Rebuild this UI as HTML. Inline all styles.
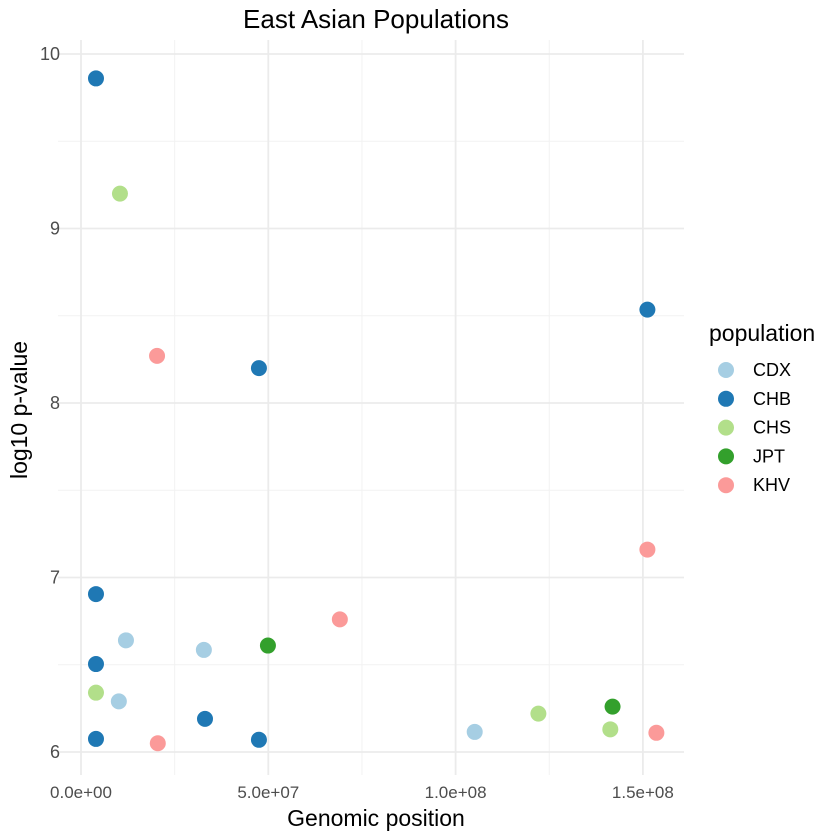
<!DOCTYPE html>
<html><head><meta charset="utf-8"><style>
body{margin:0;background:#fff;}
svg{display:block;font-family:"Liberation Sans",sans-serif;}
</style></head><body>
<svg id="chart" width="840" height="840">
<text x="376" y="28" text-anchor="middle" font-size="26" fill="#000">East Asian Populations</text>
<g id="grid"></g>
<g id="xticks"></g>
<g id="yticks"></g>
<g id="points"></g>
<text x="376" y="826" text-anchor="middle" font-size="23" fill="#000">Genomic position</text>
<text transform="translate(27,410) rotate(-90)" text-anchor="middle" font-size="23" fill="#000">log10 p-value</text>
<g id="legend">
<text x="709" y="341" font-size="23" fill="#000">population</text>
</g>
</svg>
<script>
const groups = ["CDX","CHB","CHS","JPT","KHV"];
const colors = ["#a6cee3","#1f78b4","#b2df8a","#33a02c","#fb9a99"];
const xTicks = [0, 5e7, 1e8, 1.5e8];
const xTickLabels = ["0.0e+00","5.0e+07","1.0e+08","1.5e+08"];
const yTicks = [6,7,8,9,10];
const ptGroup = ["CHB","CHB","CHB","CHB","CHB","CHB","CHB","CHB",
  "CDX","CDX","CDX","CDX",
  "CHS","CHS","CHS","CHS",
  "JPT","JPT",
  "KHV","KHV","KHV","KHV","KHV"];
const ptX = [0.4e7,4.75e7,1.512e8,0.4e7,0.4e7,0.4e7,3.31e7,4.75e7,
  1.2e7,3.28e7,1.01e7,1.051e8,
  1.04e7,0.4e7,1.221e8,1.413e8,
  4.99e7,1.419e8,
  2.03e7,6.91e7,1.512e8,1.536e8,2.05e7];
const ptY = [9.86,8.20,8.535,6.905,6.504,6.075,6.19,6.07,
  6.64,6.585,6.29,6.115,
  9.20,6.34,6.22,6.13,
  6.61,6.26,
  8.27,6.76,7.16,6.11,6.05];

const NS="http://www.w3.org/2000/svg";
const L=58,R=684,T=40,B=775;
const xs=v=>81+v*(187.3/5e7);
const ys=v=>752-(v-6)*174.5;
function mk(tag,attrs,parent){const e=document.createElementNS(NS,tag);for(const k in attrs)e.setAttribute(k,attrs[k]);parent.appendChild(e);return e;}
const grid=document.getElementById('grid');
for(let v=6.5;v<10.2;v+=1){const l=mk('line',{x1:L,x2:R,y1:ys(v),y2:ys(v),stroke:'#f2f2f2','stroke-width':1},grid);

}
for(let v=2.5e7;v<1.6e8;v+=5e7){const l=mk('line',{x1:xs(v),x2:xs(v),y1:T,y2:B,stroke:'#f2f2f2','stroke-width':1},grid);

}
const yt=document.getElementById('yticks');
yTicks.forEach(v=>{const l=mk('line',{x1:L,x2:R,y1:ys(v),y2:ys(v),stroke:'#ebebeb','stroke-width':1.8},grid);


const t=mk('text',{x:60,y:ys(v)+6,'text-anchor':'end','font-size':18,fill:'#4d4d4d'},yt);t.textContent=v;

});
const xt=document.getElementById('xticks');
xTicks.forEach((v,i)=>{const l=mk('line',{x1:xs(v),x2:xs(v),y1:T,y2:B,stroke:'#ebebeb','stroke-width':1.8},grid);


const t=mk('text',{x:xs(v),y:798,'text-anchor':'middle','font-size':17,fill:'#4d4d4d'},xt);t.textContent=xTickLabels[i];

});
const pts=document.getElementById('points');
ptX.forEach((v,i)=>{const c=mk('circle',{cx:xs(v),cy:ys(ptY[i]),r:8,fill:colors[groups.indexOf(ptGroup[i])]},pts);

});
const lg=document.getElementById('legend');
groups.forEach((g,i)=>{const y=370+i*28.8;
const c=mk('circle',{cx:726,cy:y,r:8,fill:colors[i]},lg);


const t=mk('text',{x:753,y:y+6,'font-size':18,fill:'#000'},lg);t.textContent=g;

});
</script>
</body></html>
